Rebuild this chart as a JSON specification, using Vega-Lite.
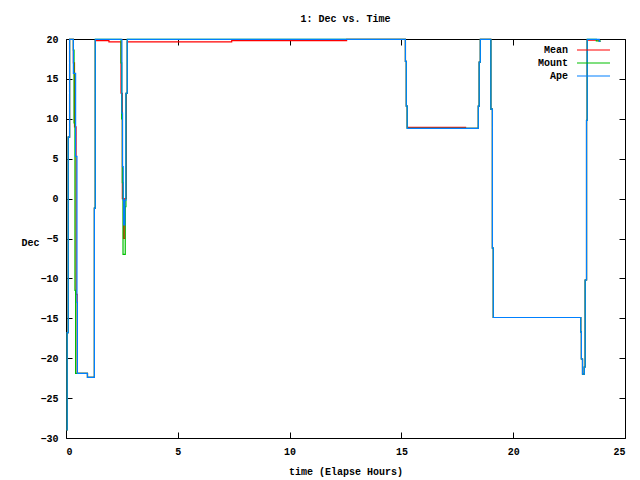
{
  "$schema": "https://vega.github.io/schema/vega-lite/v6.json",
  "width": 559,
  "height": 399,
  "autosize": {"type": "none"},
  "padding": {"left": 66, "top": 39, "right": 15, "bottom": 42},
  "background": "white",
  "title": {"text": "1: Dec vs. Time", "font": "Liberation Mono", "fontSize": 10, "fontWeight": "bold", "color": "black", "offset": 10},
  "config": {
    "view": {"stroke": "black", "strokeWidth": 1},
    "axis": {"labelFont": "Liberation Mono", "labelFontSize": 10, "labelFontWeight": "bold", "labelColor": "black", "titleFont": "Liberation Mono", "titleFontSize": 10, "titleFontWeight": "bold", "titleColor": "black", "grid": false, "domain": false, "tickColor": "black", "tickSize": -6, "tickWidth": 1},
    "legend": {"labelFont": "Liberation Mono", "labelFontSize": 10, "labelFontWeight": "bold", "labelColor": "black"}
  },
  "data": {"values": [
    {"s":"Mean","t":0.02,"v":-29},{"s":"Mean","t":0.05,"v":-16.8},{"s":"Mean","t":0.1,"v":7.7},{"s":"Mean","t":0.16,"v":19.95},{"s":"Mean","t":0.33,"v":17},{"s":"Mean","t":0.38,"v":9},{"s":"Mean","t":0.45,"v":-12},{"s":"Mean","t":0.5,"v":-21.9},{"s":"Mean","t":0.96,"v":-22.4},{"s":"Mean","t":1.27,"v":-1.2},{"s":"Mean","t":1.31,"v":19.8},{"s":"Mean","t":1.92,"v":19.65},{"s":"Mean","t":2.46,"v":13.2},{"s":"Mean","t":2.52,"v":0},{"s":"Mean","t":2.57,"v":-5},{"s":"Mean","t":2.63,"v":0},{"s":"Mean","t":2.7,"v":13.2},{"s":"Mean","t":2.74,"v":19.65},{"s":"Mean","t":7.41,"v":19.8},{"s":"Mean","t":12.55,"v":19.95},{"s":"Mean","t":15.18,"v":17.2},{"s":"Mean","t":15.22,"v":11.6},{"s":"Mean","t":15.26,"v":8.93},{"s":"Mean","t":17.87,"v":8.8},{"s":"Mean","t":18.44,"v":11.6},{"s":"Mean","t":18.48,"v":17.1},{"s":"Mean","t":18.53,"v":19.95},{"s":"Mean","t":19.0,"v":11.2},{"s":"Mean","t":19.07,"v":-6.2},{"s":"Mean","t":19.11,"v":-14.9},{"s":"Mean","t":23.02,"v":-16.7},{"s":"Mean","t":23.05,"v":-20.1},{"s":"Mean","t":23.1,"v":-22},{"s":"Mean","t":23.18,"v":-21.1},{"s":"Mean","t":23.22,"v":-10.2},{"s":"Mean","t":23.28,"v":9.8},{"s":"Mean","t":23.31,"v":19.85},{"s":"Mean","t":23.72,"v":19.85},{"s":"Mean","t":23.85,"v":19.7},{"s":"Mean","t":23.9,"v":19.7},
    {"s":"Mount","t":0.02,"v":-29},{"s":"Mount","t":0.05,"v":-16.8},{"s":"Mount","t":0.1,"v":7.7},{"s":"Mount","t":0.16,"v":19.95},{"s":"Mount","t":0.33,"v":18.6},{"s":"Mount","t":0.36,"v":9.5},{"s":"Mount","t":0.4,"v":-11.5},{"s":"Mount","t":0.43,"v":-21.9},{"s":"Mount","t":0.96,"v":-22.4},{"s":"Mount","t":1.27,"v":-1.2},{"s":"Mount","t":1.31,"v":19.95},{"s":"Mount","t":2.46,"v":17},{"s":"Mount","t":2.49,"v":10},{"s":"Mount","t":2.52,"v":2},{"s":"Mount","t":2.55,"v":-7},{"s":"Mount","t":2.65,"v":-1},{"s":"Mount","t":2.68,"v":13.2},{"s":"Mount","t":2.74,"v":19.95},{"s":"Mount","t":15.18,"v":17.2},{"s":"Mount","t":15.22,"v":11.6},{"s":"Mount","t":15.26,"v":8.8},{"s":"Mount","t":18.44,"v":11.6},{"s":"Mount","t":18.48,"v":17.1},{"s":"Mount","t":18.53,"v":19.95},{"s":"Mount","t":19.0,"v":11.2},{"s":"Mount","t":19.07,"v":-6.2},{"s":"Mount","t":19.11,"v":-14.9},{"s":"Mount","t":23.02,"v":-16.7},{"s":"Mount","t":23.05,"v":-20.1},{"s":"Mount","t":23.1,"v":-22},{"s":"Mount","t":23.18,"v":-21.1},{"s":"Mount","t":23.22,"v":-10.2},{"s":"Mount","t":23.28,"v":9.8},{"s":"Mount","t":23.31,"v":19.95},{"s":"Mount","t":23.72,"v":19.75},{"s":"Mount","t":23.9,"v":19.7},
    {"s":"Ape","t":0.02,"v":-29},{"s":"Ape","t":0.05,"v":-16.8},{"s":"Ape","t":0.1,"v":7.7},{"s":"Ape","t":0.16,"v":19.95},{"s":"Ape","t":0.33,"v":15.7},{"s":"Ape","t":0.43,"v":5.3},{"s":"Ape","t":0.49,"v":-13},{"s":"Ape","t":0.51,"v":-21.9},{"s":"Ape","t":0.96,"v":-22.4},{"s":"Ape","t":1.27,"v":-1.2},{"s":"Ape","t":1.31,"v":19.95},{"s":"Ape","t":2.5,"v":10.7},{"s":"Ape","t":2.53,"v":4},{"s":"Ape","t":2.56,"v":-0.2},{"s":"Ape","t":2.58,"v":-3.3},{"s":"Ape","t":2.63,"v":-0.2},{"s":"Ape","t":2.68,"v":13.2},{"s":"Ape","t":2.74,"v":19.95},{"s":"Ape","t":15.18,"v":17.2},{"s":"Ape","t":15.22,"v":11.6},{"s":"Ape","t":15.26,"v":8.8},{"s":"Ape","t":18.44,"v":11.6},{"s":"Ape","t":18.48,"v":17.1},{"s":"Ape","t":18.53,"v":19.95},{"s":"Ape","t":19.0,"v":11.2},{"s":"Ape","t":19.07,"v":-6.2},{"s":"Ape","t":19.11,"v":-14.9},{"s":"Ape","t":23.02,"v":-16.7},{"s":"Ape","t":23.05,"v":-20.1},{"s":"Ape","t":23.1,"v":-22},{"s":"Ape","t":23.18,"v":-21.1},{"s":"Ape","t":23.22,"v":-10.2},{"s":"Ape","t":23.28,"v":9.8},{"s":"Ape","t":23.31,"v":19.95},{"s":"Ape","t":23.72,"v":19.95},{"s":"Ape","t":23.85,"v":19.7},{"s":"Ape","t":23.9,"v":19.7}
  ]},
  "resolve": {"axis": {"x": "independent", "y": "independent"}},
  "layer": [
    {
      "transform": [{"filter": "datum.s === 'Mean'"}],
      "mark": {"type": "line", "interpolate": "step-after", "strokeWidth": 1.2},
      "encoding": {
        "x": {"field": "t", "type": "quantitative", "scale": {"domain": [0, 25], "nice": false, "zero": false}, "axis": {"orient": "bottom", "values": [0,5,10,15,20,25], "title": "time (Elapse Hours)", "labelPadding": 14, "titlePadding": 10}},
        "y": {"field": "v", "type": "quantitative", "scale": {"domain": [-30, 20], "nice": false, "zero": false}, "axis": {"orient": "left", "values": [-30,-25,-20,-15,-10,-5,0,5,10,15,20], "title": "Dec", "titleAngle": 0, "titleAlign": "center", "titleBaseline": "middle", "titleX": -36, "titleY": 203, "labelPadding": 14}},
        "color": {"field": "s", "type": "nominal", "scale": {"domain": ["Mean", "Mount", "Ape"], "range": ["#ff0000", "#00c000", "#0080ff"]},
          "legend": {"title": null, "orient": "none", "legendX": 521, "legendY": 4.5, "symbolType": "M-3,0H3", "symbolSize": 121, "symbolStrokeWidth": 1.2, "labelAlign": "right", "labelOffset": -32, "rowPadding": 1, "padding": 0}}
      }
    },
    {
      "transform": [{"filter": "datum.s === 'Mount'"}],
      "mark": {"type": "line", "interpolate": "step-after", "strokeWidth": 1.2},
      "encoding": {
        "x": {"field": "t", "type": "quantitative", "axis": null},
        "y": {"field": "v", "type": "quantitative", "axis": null},
        "color": {"field": "s", "type": "nominal"}
      }
    },
    {
      "transform": [{"filter": "datum.s === 'Ape'"}],
      "mark": {"type": "line", "interpolate": "step-after", "strokeWidth": 1.2},
      "encoding": {
        "x": {"field": "t", "type": "quantitative", "axis": null},
        "y": {"field": "v", "type": "quantitative", "axis": null},
        "color": {"field": "s", "type": "nominal"}
      }
    },
    {
      "mark": {"type": "line", "opacity": 0},
      "encoding": {
        "x": {"field": "t", "type": "quantitative", "axis": {"orient": "top", "values": [0,5,10,15,20,25], "labels": false, "title": null}},
        "y": {"field": "v", "type": "quantitative", "axis": {"orient": "right", "values": [-30,-25,-20,-15,-10,-5,0,5,10,15,20], "labels": false, "title": null}}
      }
    }
  ]
}
